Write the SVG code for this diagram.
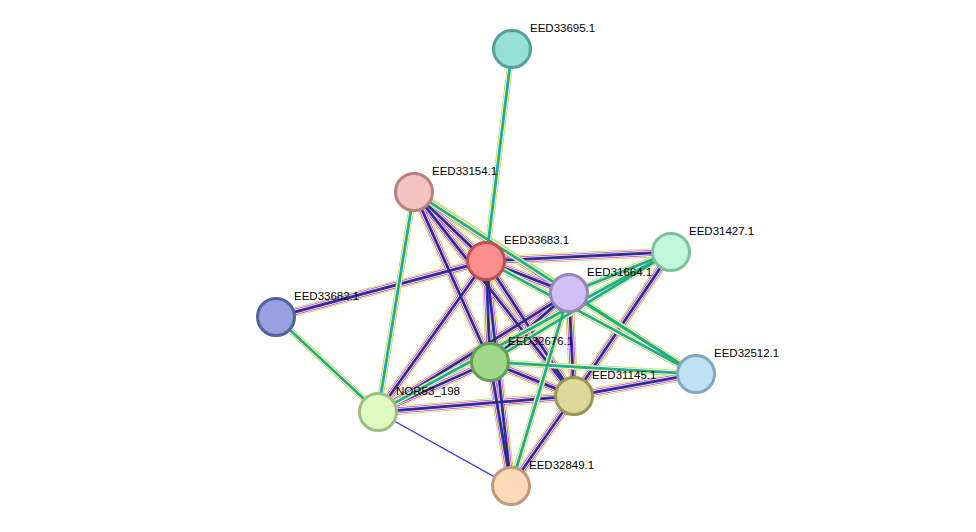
<svg xmlns="http://www.w3.org/2000/svg" xmlns:xlink="http://www.w3.org/1999/xlink" width="976" height="532" viewBox="0 0 976 532">
<style>
.n{stroke-width:3}
.t{font-family:"Liberation Sans",Arial,sans-serif;font-size:11.5px;fill:#000}
</style>
<defs>
<g id="rich" fill="none">
<line x1="414" y1="192" x2="486" y2="261"/>
<line x1="414" y1="192" x2="490" y2="362"/>
<line x1="414" y1="192" x2="574" y2="396"/>
<line x1="414" y1="192" x2="569" y2="293"/>
<line x1="486" y1="261" x2="671" y2="252"/>
<line x1="486" y1="261" x2="569" y2="293"/>
<line x1="486" y1="261" x2="490" y2="362"/>
<line x1="486" y1="261" x2="574" y2="396"/>
<line x1="486" y1="261" x2="511" y2="486"/>
<line x1="486" y1="261" x2="276" y2="317"/>
<line x1="486" y1="261" x2="378" y2="412"/>
<line x1="671" y1="252" x2="574" y2="396"/>
<line x1="569" y1="293" x2="490" y2="362"/>
<line x1="569" y1="293" x2="574" y2="396"/>
<line x1="569" y1="293" x2="378" y2="412"/>
<line x1="490" y1="362" x2="574" y2="396"/>
<line x1="490" y1="362" x2="511" y2="486"/>
<line x1="490" y1="362" x2="378" y2="412"/>
<line x1="574" y1="396" x2="378" y2="412"/>
<line x1="574" y1="396" x2="511" y2="486"/>
<line x1="574" y1="396" x2="696" y2="374"/>
</g>
<g id="light" fill="none">
<line x1="512" y1="49" x2="486" y2="261"/>
<line x1="486" y1="261" x2="696" y2="374"/>
<line x1="569" y1="293" x2="696" y2="374"/>
<line x1="671" y1="252" x2="490" y2="362"/>
<line x1="671" y1="252" x2="569" y2="293"/>
<line x1="671" y1="252" x2="378" y2="412"/>
<line x1="490" y1="362" x2="696" y2="374"/>
<line x1="569" y1="293" x2="511" y2="486"/>
<line x1="276" y1="317" x2="378" y2="412"/>
<line x1="414" y1="192" x2="696" y2="374"/>
<line x1="414" y1="192" x2="378" y2="412"/>
</g>
</defs>
<rect width="976" height="532" fill="#fff"/>
<g id="connectors">
<use xlink:href="#rich" stroke="#c8d840" stroke-width="9"/>
<use xlink:href="#rich" stroke="#fff" stroke-width="7.4"/>
<use xlink:href="#rich" stroke="#d030d0" stroke-width="6"/>
<use xlink:href="#rich" stroke="#fff" stroke-width="4.4"/>
<use xlink:href="#rich" stroke="#3333dd" stroke-width="3"/>
<use xlink:href="#rich" stroke="#333" stroke-width="1.2"/>
<use xlink:href="#light" stroke="#c8d840" stroke-width="6"/>
<use xlink:href="#light" stroke="#fff" stroke-width="4.4"/>
<use xlink:href="#light" stroke="#20b0d8" stroke-width="3"/>
<use xlink:href="#light" stroke="#30b030" stroke-width="1.2"/>
<line x1="378" y1="412" x2="511" y2="486" stroke="#3333ee" stroke-width="1.3"/>
</g>
<g id="EED33695.1"><circle class="n" cx="512" cy="49" r="18.5" fill="#96e0d4" stroke="#55a097"/><text class="t" x="530" y="32">EED33695.1</text></g>
<g id="EED33154.1"><circle class="n" cx="414" cy="192" r="18.5" fill="#f5c2c2" stroke="#b88080"/><text class="t" x="432" y="175">EED33154.1</text></g>
<g id="EED33683.1"><circle class="n" cx="486" cy="261" r="18.5" fill="#fa8e8e" stroke="#c05050"/><text class="t" x="504" y="244">EED33683.1</text></g>
<g id="EED31427.1"><circle class="n" cx="671" cy="252" r="18.5" fill="#c1f7da" stroke="#80c09a"/><text class="t" x="689" y="235">EED31427.1</text></g>
<g id="EED31664.1"><circle class="n" cx="569" cy="293" r="18.5" fill="#d3bff7" stroke="#9585b8"/><text class="t" x="587" y="276">EED31664.1</text></g>
<g id="EED33682.1"><circle class="n" cx="276" cy="317" r="18.5" fill="#97a0e0" stroke="#55609f"/><text class="t" x="294" y="300">EED33682.1</text></g>
<g id="EED32676.1"><circle class="n" cx="490" cy="362" r="18.5" fill="#a0d88a" stroke="#60a050"/><text class="t" x="508" y="345">EED32676.1</text></g>
<g id="EED32512.1"><circle class="n" cx="696" cy="374" r="18.5" fill="#c0e2f7" stroke="#80a7c0"/><text class="t" x="714" y="357">EED32512.1</text></g>
<g id="EED31145.1"><circle class="n" cx="574" cy="396" r="18.5" fill="#dcd897" stroke="#9a9555"/><text class="t" x="592" y="379">EED31145.1</text></g>
<g id="NOR53_198"><circle class="n" cx="378" cy="412" r="18.5" fill="#e0fbc0" stroke="#a0bd80"/><text class="t" x="396" y="395">NOR53_198</text></g>
<g id="EED32849.1"><circle class="n" cx="511" cy="486" r="18.5" fill="#fcd9b8" stroke="#bf9a7a"/><text class="t" x="529" y="469">EED32849.1</text></g>
</svg>
